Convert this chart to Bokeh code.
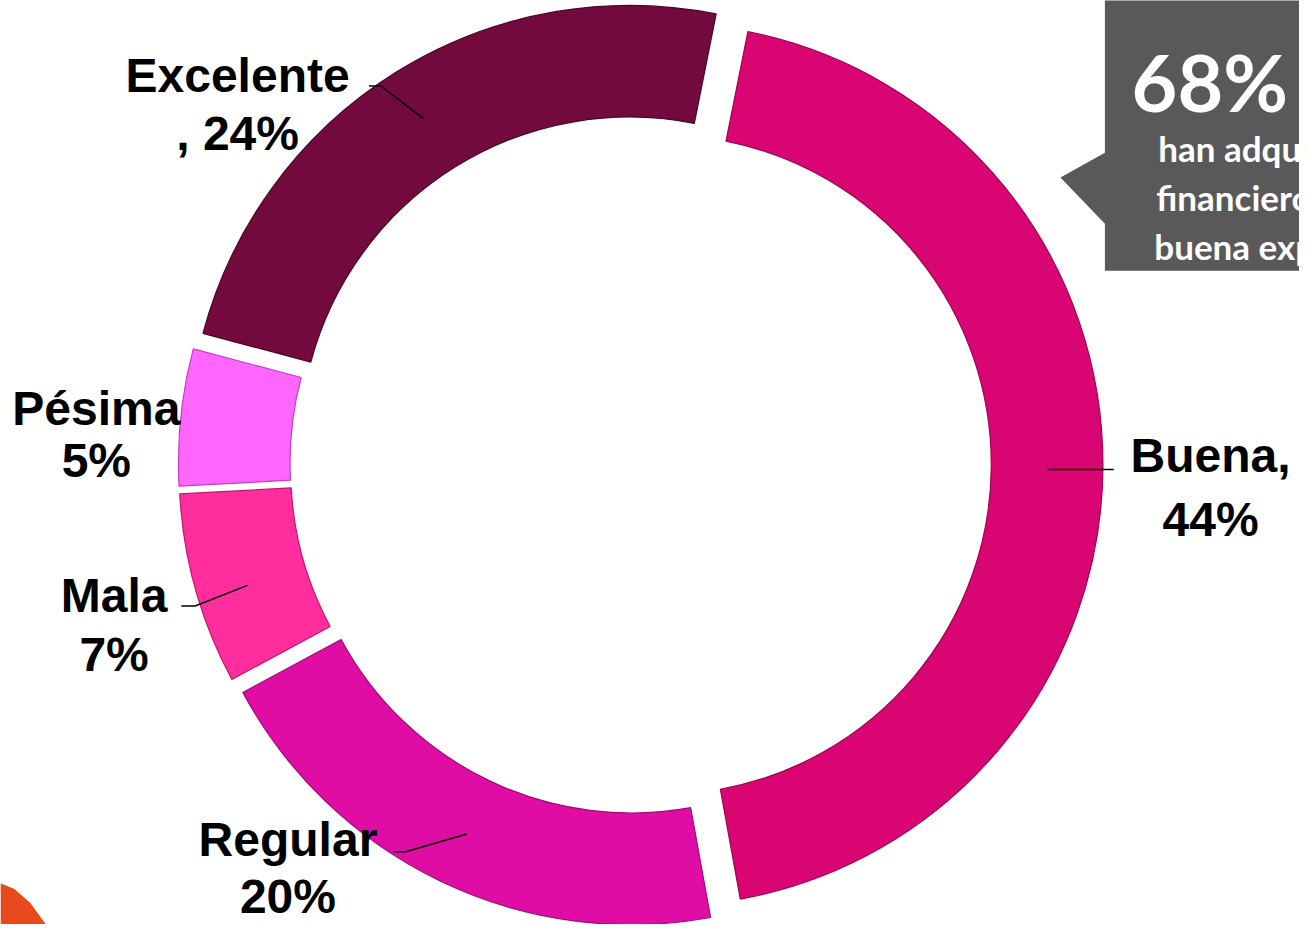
import math
from bokeh.plotting import figure
from bokeh.models import Range1d
from bokeh.core.properties import value
from bokeh.embed import file_html
from bokeh.resources import INLINE

# ---------------- data ----------------
categories = ["Buena", "Regular", "Mala", "Pésima", "Excelente"]
percentages = [44, 20, 7, 5, 24]
label_line1 = ["Buena,", "Regular", "Mala", "Pésima", "Excelente"]
label_line2 = ["44%", "20%", "7%", "5%", ", 24%"]
callout_value = "68%"
callout_lines = ["han adquirido productos", "financieros y tienen una", "buena experiencia"]

# ---------------- styles / layout ----------------
colors = ["#D90572", "#DF0DA3", "#FF2E9C", "#FF66FF", "#730A3D"]
edge_colors = ["#9E0052", "#A0087A", "#C01872", "#C040C0", "#4A0526"]
W, H, M = 1315, 940, 8
CX, CY = 648, 472          # ring centre (reference px, y down)
R_OUT, R_IN = 447, 334
EXPLODE = 21
START_CW = 11.3            # degrees clockwise from 12 o'clock
# label anchor points (reference px): (x, baseline1, baseline2)
label_pos = {
    "Buena": (1225, 463, 528),
    "Regular": (291, 854, 912),
    "Mala": (115, 605, 665),
    "Pésima": (97, 415, 468),
    "Excelente": (240, 76, 135),
}
leaders = {
    "Buena": [(1060, 477), (1127, 477)],
    "Regular": [(398, 866), (410, 866), (472, 848)],
    "Mala": [(183, 616), (197, 616), (250, 595)],
    "Excelente": [(373, 87), (385, 87), (428, 120)],
}


def py(y):
    return H - y


p = figure(width=W - 2 * M, height=H - 2 * M, output_backend="svg",
           toolbar_location=None, x_range=Range1d(0, W),
           y_range=Range1d(0, H), min_border=0)
p.axis.visible = False
p.grid.visible = False
p.outline_line_color = None
p.background_fill_color = "white"

# orange decoration bottom-left
p.patch([0, 14, 30, 46, 0], [py(898), py(904), py(918), py(940), py(940)],
        fill_color="#E8491D", line_color=None)

# ---------------- donut ----------------
total = float(sum(percentages))
xs, ys, sa, ea = [], [], [], []
cum = 0.0
for v in percentages:
    a0 = START_CW + 360.0 * cum / total
    a1 = START_CW + 360.0 * (cum + v) / total
    mid = math.radians((a0 + a1) / 2)
    xs.append(CX + EXPLODE * math.sin(mid))
    ys.append(py(CY) + EXPLODE * math.cos(mid))
    sa.append(math.radians(90 - a0))
    ea.append(math.radians(90 - a1))
    cum += v

p.annular_wedge(x=xs, y=ys, inner_radius=R_IN, outer_radius=R_OUT,
                start_angle=sa, end_angle=ea, direction="clock",
                fill_color=colors, line_color=edge_colors, line_width=1.2)

# ---------------- labels ----------------
font = value("Liberation Sans")
for cat, l1, l2 in zip(categories, label_line1, label_line2):
    x, b1, b2 = label_pos[cat]
    p.text(x=[x, x], y=[py(b1), py(b2)], text=[l1, l2], text_font=font,
           text_font_style="bold", text_font_size="48px", text_color="black",
           text_align="center", text_baseline="alphabetic")

for cat, pts in leaders.items():
    p.line([q[0] for q in pts], [py(q[1]) for q in pts], line_color="black",
           line_width=1.5)

# ---------------- callout ----------------
p.patch([1118, 1320, 1320, 1118, 1118, 1073, 1118],
        [py(-5), py(-5), py(275), py(275), py(227), py(180), py(155)],
        fill_color="#595959", line_color=None)
p.text(x=[1145], y=[py(82)], text=[callout_value], text_font=value("Lato"),
       text_font_style="bold", text_font_size="79px", text_color="white",
       text_align="left", text_baseline="alphabetic")
p.text(x=[1172, 1170, 1168], y=[py(150), py(200), py(250)], text=callout_lines,
       text_font=value("Lato"), text_font_style="bold", text_font_size="35px",
       text_color="white", text_align="left", text_baseline="alphabetic")

open("out.html", "w").write(file_html(p, INLINE))
